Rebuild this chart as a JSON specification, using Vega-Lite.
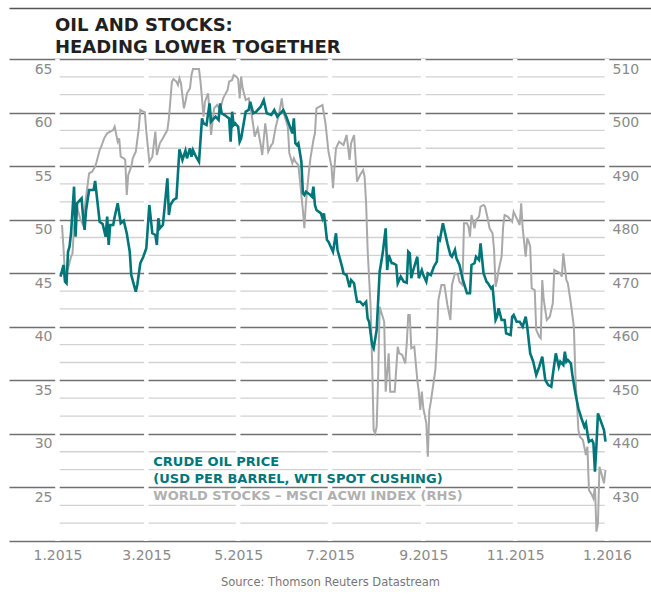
{
  "$schema": "https://vega.github.io/schema/vega-lite/v6.json",
  "width": 642,
  "height": 482,
  "autosize": {"type": "none"},
  "padding": {"left": 9, "top": 59, "right": 0, "bottom": 53},
  "background": "white",
  "title": {
    "text": ["OIL AND STOCKS:", "HEADING LOWER TOGETHER"],
    "anchor": "start",
    "frame": "group",
    "dx": 46,
    "offset": -48.5,
    "font": "DejaVu Sans",
    "fontSize": 18,
    "fontWeight": "bold",
    "color": "#231f20",
    "lineHeight": 22
  },
  "config": {
    "view": {"stroke": null},
    "axis": {"labelFont": "DejaVu Sans", "labelFontSize": 14, "labelColor": "#8a8a8a"}
  },
  "datasets": {
    "grid": [
      {"level": 423.3333}, {"level": 426.6667}, {"level": 433.3333}, {"level": 436.6667},
      {"level": 443.3333}, {"level": 446.6667}, {"level": 453.3333}, {"level": 456.6667},
      {"level": 463.3333}, {"level": 466.6667}, {"level": 473.3333}, {"level": 476.6667},
      {"level": 483.3333}, {"level": 486.6667}, {"level": 493.3333}, {"level": 496.6667},
      {"level": 503.3333}, {"level": 506.6667}
    ],
    "gaps": [
      {"date": "2015-01-01"}, {"date": "2015-03-01"}, {"date": "2015-05-01"}, {"date": "2015-07-01"},
      {"date": "2015-09-01"}, {"date": "2015-11-01"}, {"date": "2016-01-01"}
    ],
    "notes": [
      {"date": "2015-03-05T15:25:00Z", "y": 27.03, "label": "CRUDE OIL PRICE", "series": "oil"},
      {"date": "2015-03-05T15:25:00Z", "y": 25.39, "label": "(USD PER BARREL, WTI SPOT CUSHING)", "series": "oil"},
      {"date": "2015-03-05T15:25:00Z", "y": 23.83, "label": "WORLD STOCKS – MSCI ACWI INDEX (RHS)", "series": "stocks"}
    ],
    "oil": [
      {"date": "2015-01-03", "value": 44.68}, {"date": "2015-01-05", "value": 45.77}, {"date": "2015-01-06", "value": 44.21},
      {"date": "2015-01-07", "value": 44.06}, {"date": "2015-01-08", "value": 47.01}, {"date": "2015-01-09", "value": 47.48},
      {"date": "2015-01-10", "value": 48.73}, {"date": "2015-01-12", "value": 53.08}, {"date": "2015-01-13", "value": 48.41},
      {"date": "2015-01-14", "value": 51.53}, {"date": "2015-01-17", "value": 52.0}, {"date": "2015-01-18", "value": 50.28},
      {"date": "2015-01-19", "value": 49.04}, {"date": "2015-01-20", "value": 50.9}, {"date": "2015-01-22", "value": 52.77},
      {"date": "2015-01-25", "value": 52.77}, {"date": "2015-01-26", "value": 53.61}, {"date": "2015-01-29", "value": 49.81},
      {"date": "2015-01-31", "value": 49.6}, {"date": "2015-02-02", "value": 48.41}, {"date": "2015-02-03", "value": 50.28},
      {"date": "2015-02-04", "value": 47.64}, {"date": "2015-02-05", "value": 49.5}, {"date": "2015-02-07", "value": 49.5},
      {"date": "2015-02-08", "value": 50.28}, {"date": "2015-02-10", "value": 51.53}, {"date": "2015-02-12", "value": 49.66},
      {"date": "2015-02-14", "value": 49.9}, {"date": "2015-02-16", "value": 48.73}, {"date": "2015-02-18", "value": 47.01},
      {"date": "2015-02-19", "value": 44.83}, {"date": "2015-02-22", "value": 43.28}, {"date": "2015-02-23", "value": 43.9},
      {"date": "2015-02-25", "value": 45.93}, {"date": "2015-02-27", "value": 46.54}, {"date": "2015-03-01", "value": 47.33},
      {"date": "2015-03-03", "value": 51.37}, {"date": "2015-03-05", "value": 48.73}, {"date": "2015-03-07", "value": 48.57},
      {"date": "2015-03-08", "value": 47.64}, {"date": "2015-03-09", "value": 50.13}, {"date": "2015-03-10", "value": 49.19},
      {"date": "2015-03-12", "value": 49.5}, {"date": "2015-03-15", "value": 53.86}, {"date": "2015-03-16", "value": 50.44},
      {"date": "2015-03-17", "value": 51.37}, {"date": "2015-03-19", "value": 51.84}, {"date": "2015-03-21", "value": 52.0},
      {"date": "2015-03-23", "value": 56.57}, {"date": "2015-03-25", "value": 55.57}, {"date": "2015-03-27", "value": 56.44},
      {"date": "2015-03-28", "value": 55.73}, {"date": "2015-03-30", "value": 56.66}, {"date": "2015-03-31", "value": 55.88},
      {"date": "2015-04-01", "value": 56.5}, {"date": "2015-04-03", "value": 55.88}, {"date": "2015-04-05", "value": 55.41},
      {"date": "2015-04-07", "value": 59.46}, {"date": "2015-04-08", "value": 58.99}, {"date": "2015-04-10", "value": 58.84},
      {"date": "2015-04-12", "value": 60.86}, {"date": "2015-04-13", "value": 59.15}, {"date": "2015-04-16", "value": 59.61},
      {"date": "2015-04-18", "value": 59.31}, {"date": "2015-04-19", "value": 60.86}, {"date": "2015-04-20", "value": 59.93},
      {"date": "2015-04-22", "value": 59.77}, {"date": "2015-04-25", "value": 59.46}, {"date": "2015-04-26", "value": 57.28},
      {"date": "2015-04-27", "value": 60.08}, {"date": "2015-04-28", "value": 58.84}, {"date": "2015-04-29", "value": 59.0},
      {"date": "2015-05-01", "value": 58.68}, {"date": "2015-05-02", "value": 57.28}, {"date": "2015-05-03", "value": 57.6},
      {"date": "2015-05-06", "value": 60.08}, {"date": "2015-05-08", "value": 60.24}, {"date": "2015-05-09", "value": 61.01},
      {"date": "2015-05-11", "value": 59.93}, {"date": "2015-05-13", "value": 60.08}, {"date": "2015-05-16", "value": 60.55},
      {"date": "2015-05-18", "value": 61.17}, {"date": "2015-05-20", "value": 59.93}, {"date": "2015-05-23", "value": 59.77},
      {"date": "2015-05-25", "value": 60.24}, {"date": "2015-05-27", "value": 59.61}, {"date": "2015-05-29", "value": 59.93},
      {"date": "2015-05-31", "value": 60.24}, {"date": "2015-06-02", "value": 59.61}, {"date": "2015-06-04", "value": 58.84},
      {"date": "2015-06-06", "value": 58.06}, {"date": "2015-06-07", "value": 59.46}, {"date": "2015-06-08", "value": 57.13},
      {"date": "2015-06-09", "value": 56.97}, {"date": "2015-06-10", "value": 57.13}, {"date": "2015-06-12", "value": 55.41},
      {"date": "2015-06-13", "value": 52.46}, {"date": "2015-06-14", "value": 52.3}, {"date": "2015-06-15", "value": 52.61},
      {"date": "2015-06-18", "value": 52.3}, {"date": "2015-06-19", "value": 52.15}, {"date": "2015-06-20", "value": 53.08},
      {"date": "2015-06-21", "value": 51.37}, {"date": "2015-06-22", "value": 50.9}, {"date": "2015-06-25", "value": 50.59},
      {"date": "2015-06-26", "value": 50.13}, {"date": "2015-06-27", "value": 50.59}, {"date": "2015-06-29", "value": 48.1},
      {"date": "2015-06-30", "value": 47.94}, {"date": "2015-07-03", "value": 47.01}, {"date": "2015-07-05", "value": 48.73},
      {"date": "2015-07-06", "value": 47.17}, {"date": "2015-07-09", "value": 45.61}, {"date": "2015-07-10", "value": 44.99},
      {"date": "2015-07-12", "value": 44.83}, {"date": "2015-07-14", "value": 43.69}, {"date": "2015-07-15", "value": 44.37},
      {"date": "2015-07-17", "value": 44.06}, {"date": "2015-07-18", "value": 43.13}, {"date": "2015-07-19", "value": 42.34},
      {"date": "2015-07-21", "value": 42.34}, {"date": "2015-07-23", "value": 42.03}, {"date": "2015-07-25", "value": 42.34},
      {"date": "2015-07-26", "value": 40.79}, {"date": "2015-07-27", "value": 40.47}, {"date": "2015-07-29", "value": 38.3},
      {"date": "2015-07-30", "value": 37.99}, {"date": "2015-08-01", "value": 39.7}, {"date": "2015-08-03", "value": 45.14},
      {"date": "2015-08-05", "value": 46.86}, {"date": "2015-08-07", "value": 49.19}, {"date": "2015-08-08", "value": 45.3},
      {"date": "2015-08-09", "value": 46.7}, {"date": "2015-08-11", "value": 45.93}, {"date": "2015-08-12", "value": 45.93},
      {"date": "2015-08-14", "value": 45.77}, {"date": "2015-08-15", "value": 44.06}, {"date": "2015-08-17", "value": 44.68},
      {"date": "2015-08-19", "value": 44.21}, {"date": "2015-08-21", "value": 44.11}, {"date": "2015-08-22", "value": 47.01},
      {"date": "2015-08-23", "value": 46.86}, {"date": "2015-08-24", "value": 44.53}, {"date": "2015-08-25", "value": 45.14},
      {"date": "2015-08-28", "value": 46.54}, {"date": "2015-08-29", "value": 44.53}, {"date": "2015-08-31", "value": 45.3},
      {"date": "2015-09-01", "value": 44.83}, {"date": "2015-09-03", "value": 44.21}, {"date": "2015-09-04", "value": 44.99},
      {"date": "2015-09-06", "value": 44.83}, {"date": "2015-09-08", "value": 45.61}, {"date": "2015-09-10", "value": 46.08},
      {"date": "2015-09-11", "value": 48.26}, {"date": "2015-09-12", "value": 48.1}, {"date": "2015-09-14", "value": 49.66},
      {"date": "2015-09-15", "value": 49.04}, {"date": "2015-09-17", "value": 47.79}, {"date": "2015-09-19", "value": 46.7},
      {"date": "2015-09-20", "value": 46.54}, {"date": "2015-09-22", "value": 47.17}, {"date": "2015-09-23", "value": 46.39},
      {"date": "2015-09-25", "value": 45.77}, {"date": "2015-09-27", "value": 44.53}, {"date": "2015-09-28", "value": 44.06},
      {"date": "2015-09-30", "value": 43.13}, {"date": "2015-10-02", "value": 43.13}, {"date": "2015-10-03", "value": 45.77},
      {"date": "2015-10-05", "value": 45.93}, {"date": "2015-10-06", "value": 46.54}, {"date": "2015-10-08", "value": 46.23},
      {"date": "2015-10-09", "value": 47.79}, {"date": "2015-10-11", "value": 44.99}, {"date": "2015-10-13", "value": 44.21},
      {"date": "2015-10-14", "value": 44.06}, {"date": "2015-10-16", "value": 43.59}, {"date": "2015-10-17", "value": 43.74},
      {"date": "2015-10-19", "value": 40.63}, {"date": "2015-10-20", "value": 40.94}, {"date": "2015-10-21", "value": 41.73},
      {"date": "2015-10-23", "value": 40.63}, {"date": "2015-10-25", "value": 40.63}, {"date": "2015-10-26", "value": 39.39},
      {"date": "2015-10-29", "value": 39.23}, {"date": "2015-10-30", "value": 40.94}, {"date": "2015-10-31", "value": 41.1},
      {"date": "2015-11-02", "value": 40.47}, {"date": "2015-11-04", "value": 40.47}, {"date": "2015-11-06", "value": 40.01},
      {"date": "2015-11-08", "value": 40.94}, {"date": "2015-11-09", "value": 40.01}, {"date": "2015-11-11", "value": 37.52},
      {"date": "2015-11-13", "value": 36.74}, {"date": "2015-11-15", "value": 35.5}, {"date": "2015-11-17", "value": 36.27},
      {"date": "2015-11-19", "value": 37.21}, {"date": "2015-11-21", "value": 35.03}, {"date": "2015-11-23", "value": 34.56},
      {"date": "2015-11-25", "value": 34.41}, {"date": "2015-11-26", "value": 35.5}, {"date": "2015-11-28", "value": 37.52},
      {"date": "2015-11-30", "value": 36.27}, {"date": "2015-12-01", "value": 36.74}, {"date": "2015-12-03", "value": 36.43},
      {"date": "2015-12-04", "value": 37.67}, {"date": "2015-12-05", "value": 36.74}, {"date": "2015-12-06", "value": 36.9},
      {"date": "2015-12-08", "value": 36.59}, {"date": "2015-12-09", "value": 35.5}, {"date": "2015-12-11", "value": 33.79},
      {"date": "2015-12-13", "value": 32.39}, {"date": "2015-12-15", "value": 31.46}, {"date": "2015-12-17", "value": 30.67},
      {"date": "2015-12-18", "value": 30.99}, {"date": "2015-12-19", "value": 30.06}, {"date": "2015-12-20", "value": 29.27},
      {"date": "2015-12-22", "value": 29.43}, {"date": "2015-12-23", "value": 29.12}, {"date": "2015-12-24", "value": 26.47},
      {"date": "2015-12-25", "value": 28.96}, {"date": "2015-12-26", "value": 31.92}, {"date": "2015-12-28", "value": 31.14},
      {"date": "2015-12-30", "value": 30.36}, {"date": "2015-12-31", "value": 29.27}
    ],
    "stocks": [
      {"date": "2015-01-04", "value": 479.0}, {"date": "2015-01-05", "value": 474.65}, {"date": "2015-01-06", "value": 469.67},
      {"date": "2015-01-08", "value": 470.92}, {"date": "2015-01-10", "value": 473.08}, {"date": "2015-01-11", "value": 473.72},
      {"date": "2015-01-12", "value": 478.69}, {"date": "2015-01-14", "value": 482.42}, {"date": "2015-01-16", "value": 480.25},
      {"date": "2015-01-18", "value": 479.0}, {"date": "2015-01-19", "value": 481.8}, {"date": "2015-01-20", "value": 484.29},
      {"date": "2015-01-22", "value": 488.66}, {"date": "2015-01-24", "value": 488.96}, {"date": "2015-01-26", "value": 489.89},
      {"date": "2015-01-27", "value": 490.82}, {"date": "2015-01-29", "value": 493.01}, {"date": "2015-01-30", "value": 493.62},
      {"date": "2015-02-01", "value": 495.19}, {"date": "2015-02-03", "value": 496.13}, {"date": "2015-02-05", "value": 496.43},
      {"date": "2015-02-07", "value": 496.74}, {"date": "2015-02-08", "value": 497.36}, {"date": "2015-02-10", "value": 494.56},
      {"date": "2015-02-11", "value": 495.19}, {"date": "2015-02-12", "value": 491.76}, {"date": "2015-02-14", "value": 491.46},
      {"date": "2015-02-15", "value": 491.14}, {"date": "2015-02-16", "value": 484.6}, {"date": "2015-02-17", "value": 488.34},
      {"date": "2015-02-19", "value": 489.89}, {"date": "2015-02-20", "value": 491.46}, {"date": "2015-02-22", "value": 492.69},
      {"date": "2015-02-23", "value": 494.87}, {"date": "2015-02-24", "value": 497.06}, {"date": "2015-02-25", "value": 500.48},
      {"date": "2015-02-27", "value": 500.16}, {"date": "2015-02-28", "value": 500.05}, {"date": "2015-03-01", "value": 496.43},
      {"date": "2015-03-03", "value": 490.82}, {"date": "2015-03-05", "value": 491.76}, {"date": "2015-03-07", "value": 496.43},
      {"date": "2015-03-08", "value": 492.07}, {"date": "2015-03-10", "value": 494.26}, {"date": "2015-03-12", "value": 495.19},
      {"date": "2015-03-15", "value": 496.74}, {"date": "2015-03-16", "value": 498.93}, {"date": "2015-03-18", "value": 505.76},
      {"date": "2015-03-19", "value": 506.26}, {"date": "2015-03-21", "value": 505.76}, {"date": "2015-03-22", "value": 505.14},
      {"date": "2015-03-23", "value": 506.39}, {"date": "2015-03-24", "value": 505.46}, {"date": "2015-03-26", "value": 500.79},
      {"date": "2015-03-27", "value": 502.03}, {"date": "2015-03-28", "value": 503.6}, {"date": "2015-03-30", "value": 504.53},
      {"date": "2015-03-31", "value": 507.01}, {"date": "2015-04-01", "value": 508.13}, {"date": "2015-04-05", "value": 508.13},
      {"date": "2015-04-06", "value": 505.76}, {"date": "2015-04-07", "value": 502.66}, {"date": "2015-04-08", "value": 499.23},
      {"date": "2015-04-09", "value": 502.03}, {"date": "2015-04-11", "value": 503.6}, {"date": "2015-04-12", "value": 500.16},
      {"date": "2015-04-13", "value": 495.81}, {"date": "2015-04-15", "value": 500.79}, {"date": "2015-04-17", "value": 501.41},
      {"date": "2015-04-19", "value": 500.48}, {"date": "2015-04-21", "value": 502.66}, {"date": "2015-04-24", "value": 504.21},
      {"date": "2015-04-25", "value": 505.76}, {"date": "2015-04-27", "value": 506.08}, {"date": "2015-04-28", "value": 507.01},
      {"date": "2015-04-30", "value": 506.7}, {"date": "2015-05-01", "value": 506.26}, {"date": "2015-05-02", "value": 502.66},
      {"date": "2015-05-03", "value": 506.7}, {"date": "2015-05-04", "value": 504.53}, {"date": "2015-05-06", "value": 502.34},
      {"date": "2015-05-08", "value": 502.66}, {"date": "2015-05-09", "value": 501.41}, {"date": "2015-05-11", "value": 497.68},
      {"date": "2015-05-12", "value": 495.49}, {"date": "2015-05-14", "value": 497.06}, {"date": "2015-05-16", "value": 493.94},
      {"date": "2015-05-17", "value": 492.07}, {"date": "2015-05-19", "value": 497.99}, {"date": "2015-05-20", "value": 495.81},
      {"date": "2015-05-21", "value": 492.69}, {"date": "2015-05-23", "value": 493.94}, {"date": "2015-05-24", "value": 494.26},
      {"date": "2015-05-26", "value": 497.36}, {"date": "2015-05-28", "value": 499.54}, {"date": "2015-05-30", "value": 502.66},
      {"date": "2015-05-31", "value": 500.16}, {"date": "2015-06-02", "value": 498.29}, {"date": "2015-06-03", "value": 497.36},
      {"date": "2015-06-04", "value": 492.39}, {"date": "2015-06-06", "value": 490.52}, {"date": "2015-06-07", "value": 491.46},
      {"date": "2015-06-08", "value": 490.82}, {"date": "2015-06-10", "value": 490.21}, {"date": "2015-06-11", "value": 487.41},
      {"date": "2015-06-12", "value": 484.6}, {"date": "2015-06-13", "value": 481.8}, {"date": "2015-06-14", "value": 478.39},
      {"date": "2015-06-15", "value": 483.06}, {"date": "2015-06-17", "value": 488.96}, {"date": "2015-06-18", "value": 491.46},
      {"date": "2015-06-20", "value": 494.87}, {"date": "2015-06-21", "value": 496.13}, {"date": "2015-06-22", "value": 500.79},
      {"date": "2015-06-24", "value": 501.09}, {"date": "2015-06-26", "value": 501.41}, {"date": "2015-06-28", "value": 497.99},
      {"date": "2015-06-30", "value": 492.69}, {"date": "2015-07-02", "value": 489.89}, {"date": "2015-07-03", "value": 485.86},
      {"date": "2015-07-04", "value": 489.89}, {"date": "2015-07-05", "value": 493.33}, {"date": "2015-07-07", "value": 494.56},
      {"date": "2015-07-10", "value": 493.94}, {"date": "2015-07-12", "value": 495.81}, {"date": "2015-07-13", "value": 493.62},
      {"date": "2015-07-14", "value": 491.14}, {"date": "2015-07-15", "value": 494.26}, {"date": "2015-07-17", "value": 495.81},
      {"date": "2015-07-19", "value": 487.09}, {"date": "2015-07-21", "value": 488.34}, {"date": "2015-07-23", "value": 489.27},
      {"date": "2015-07-24", "value": 488.02}, {"date": "2015-07-25", "value": 483.06}, {"date": "2015-07-26", "value": 474.34},
      {"date": "2015-07-28", "value": 463.75}, {"date": "2015-07-29", "value": 453.18}, {"date": "2015-07-30", "value": 440.73},
      {"date": "2015-07-31", "value": 440.11}, {"date": "2015-08-01", "value": 441.34}, {"date": "2015-08-02", "value": 450.68},
      {"date": "2015-08-03", "value": 463.75}, {"date": "2015-08-05", "value": 461.88}, {"date": "2015-08-06", "value": 460.95},
      {"date": "2015-08-07", "value": 447.88}, {"date": "2015-08-09", "value": 455.05}, {"date": "2015-08-10", "value": 447.88},
      {"date": "2015-08-11", "value": 447.88}, {"date": "2015-08-13", "value": 447.88}, {"date": "2015-08-15", "value": 456.28},
      {"date": "2015-08-16", "value": 455.05}, {"date": "2015-08-18", "value": 454.73}, {"date": "2015-08-20", "value": 453.18},
      {"date": "2015-08-21", "value": 456.91}, {"date": "2015-08-22", "value": 462.2}, {"date": "2015-08-23", "value": 462.2},
      {"date": "2015-08-24", "value": 455.98}, {"date": "2015-08-26", "value": 456.28}, {"date": "2015-08-28", "value": 450.06},
      {"date": "2015-08-29", "value": 447.88}, {"date": "2015-08-30", "value": 444.46}, {"date": "2015-08-31", "value": 447.88},
      {"date": "2015-09-01", "value": 444.78}, {"date": "2015-09-03", "value": 441.98}, {"date": "2015-09-04", "value": 435.74},
      {"date": "2015-09-05", "value": 444.46}, {"date": "2015-09-06", "value": 446.01}, {"date": "2015-09-09", "value": 451.93},
      {"date": "2015-09-10", "value": 457.53}, {"date": "2015-09-11", "value": 465.0}, {"date": "2015-09-13", "value": 467.8},
      {"date": "2015-09-15", "value": 467.8}, {"date": "2015-09-17", "value": 464.07}, {"date": "2015-09-19", "value": 461.27},
      {"date": "2015-09-20", "value": 467.8}, {"date": "2015-09-22", "value": 469.98}, {"date": "2015-09-24", "value": 469.67},
      {"date": "2015-09-25", "value": 468.42}, {"date": "2015-09-27", "value": 467.8}, {"date": "2015-09-28", "value": 479.32},
      {"date": "2015-09-30", "value": 479.32}, {"date": "2015-10-01", "value": 478.69}, {"date": "2015-10-02", "value": 476.82},
      {"date": "2015-10-03", "value": 480.87}, {"date": "2015-10-05", "value": 478.39}, {"date": "2015-10-06", "value": 479.94},
      {"date": "2015-10-08", "value": 480.56}, {"date": "2015-10-09", "value": 482.42}, {"date": "2015-10-11", "value": 482.74},
      {"date": "2015-10-12", "value": 482.42}, {"date": "2015-10-14", "value": 479.94}, {"date": "2015-10-15", "value": 478.39},
      {"date": "2015-10-17", "value": 477.45}, {"date": "2015-10-18", "value": 474.34}, {"date": "2015-10-19", "value": 467.48},
      {"date": "2015-10-20", "value": 468.73}, {"date": "2015-10-21", "value": 470.6}, {"date": "2015-10-23", "value": 473.08},
      {"date": "2015-10-24", "value": 478.69}, {"date": "2015-10-25", "value": 480.87}, {"date": "2015-10-27", "value": 480.56},
      {"date": "2015-10-30", "value": 479.62}, {"date": "2015-10-31", "value": 481.49}, {"date": "2015-11-02", "value": 480.25},
      {"date": "2015-11-04", "value": 479.0}, {"date": "2015-11-05", "value": 483.06}, {"date": "2015-11-06", "value": 478.39},
      {"date": "2015-11-08", "value": 473.08}, {"date": "2015-11-09", "value": 476.52}, {"date": "2015-11-10", "value": 475.89},
      {"date": "2015-11-11", "value": 474.95}, {"date": "2015-11-12", "value": 467.18}, {"date": "2015-11-14", "value": 466.87},
      {"date": "2015-11-15", "value": 459.4}, {"date": "2015-11-17", "value": 458.15}, {"date": "2015-11-18", "value": 457.85},
      {"date": "2015-11-19", "value": 468.73}, {"date": "2015-11-20", "value": 465.0}, {"date": "2015-11-22", "value": 461.27},
      {"date": "2015-11-24", "value": 461.88}, {"date": "2015-11-26", "value": 464.38}, {"date": "2015-11-27", "value": 470.6},
      {"date": "2015-11-29", "value": 470.28}, {"date": "2015-12-01", "value": 469.98}, {"date": "2015-12-02", "value": 469.35},
      {"date": "2015-12-03", "value": 473.72}, {"date": "2015-12-05", "value": 468.73}, {"date": "2015-12-06", "value": 468.12},
      {"date": "2015-12-08", "value": 464.38}, {"date": "2015-12-10", "value": 460.01}, {"date": "2015-12-11", "value": 451.0},
      {"date": "2015-12-13", "value": 440.73}, {"date": "2015-12-14", "value": 439.48}, {"date": "2015-12-16", "value": 438.86},
      {"date": "2015-12-18", "value": 436.06}, {"date": "2015-12-19", "value": 437.61}, {"date": "2015-12-20", "value": 429.52},
      {"date": "2015-12-22", "value": 428.59}, {"date": "2015-12-23", "value": 427.97}, {"date": "2015-12-24", "value": 430.14},
      {"date": "2015-12-25", "value": 421.74}, {"date": "2015-12-26", "value": 423.3}, {"date": "2015-12-27", "value": 433.87},
      {"date": "2015-12-28", "value": 432.94}, {"date": "2015-12-30", "value": 430.77}, {"date": "2015-12-31", "value": 433.26}
    ]
  },
  "layer": [
    {
      "layer": [
        {
          "data": {"name": "grid"},
          "mark": {"type": "rule", "stroke": "#d2d2d2", "strokeWidth": 1.3},
          "encoding": {
            "x": {"datum": {"year": 2015, "month": 1, "date": 1, "utc": true}, "type": "temporal",
              "scale": {"type": "utc", "domain": [{"year": 2014, "month": 11, "date": 29, "hours": 19, "utc": true}, {"year": 2016, "month": 1, "date": 30, "hours": 5, "minutes": 30, "utc": true}]},
              "axis": {"orient": "top", "offset": 51, "domain": true, "domainColor": "#555555", "domainWidth": 1.5, "ticks": false, "labels": false, "grid": false, "title": null}},
            "x2": {"datum": {"year": 2016, "month": 1, "date": 1, "utc": true}},
            "y": {"field": "level", "type": "quantitative", "scale": {"domain": [420, 510], "nice": false, "zero": false},
              "axis": {"orient": "right", "values": [430, 440, 450, 460, 470, 480, 490, 500, 510], "offset": -39, "labelPadding": 0, "ticks": false, "domain": false, "grid": false, "labelOffset": 10, "labelExpr": "format(datum.value, 'd')", "labelOverlap": false, "title": null}}
          }
        },
        {
          "data": {"name": "gaps"},
          "mark": {"type": "rule", "stroke": "white", "strokeWidth": 4.5},
          "encoding": {
            "x": {"field": "date", "type": "temporal",
              "scale": {"type": "utc", "domain": [{"year": 2014, "month": 11, "date": 29, "hours": 19, "utc": true}, {"year": 2016, "month": 1, "date": 30, "hours": 5, "minutes": 30, "utc": true}]},
              "axis": {"orient": "top", "offset": 51, "domain": true, "domainColor": "#555555", "domainWidth": 1.5, "ticks": false, "labels": false, "grid": false, "title": null}}
          }
        },
        {
          "data": {"name": "stocks"},
          "mark": {"type": "line", "stroke": "#a9a9a9", "strokeWidth": 2},
          "encoding": {
            "x": {"field": "date", "type": "temporal",
              "scale": {"type": "utc", "domain": [{"year": 2014, "month": 11, "date": 29, "hours": 19, "utc": true}, {"year": 2016, "month": 1, "date": 30, "hours": 5, "minutes": 30, "utc": true}]},
              "axis": {"orient": "top", "offset": 51, "domain": true, "domainColor": "#555555", "domainWidth": 1.5, "ticks": false, "labels": false, "grid": false, "title": null}},
            "y": {"field": "value", "type": "quantitative", "scale": {"domain": [420, 510], "nice": false, "zero": false},
              "axis": {"orient": "right", "values": [430, 440, 450, 460, 470, 480, 490, 500, 510], "offset": -39, "labelPadding": 0, "ticks": false, "domain": false, "grid": false, "labelOffset": 10, "labelExpr": "format(datum.value, 'd')", "labelOverlap": false, "title": null}}
          }
        }
      ]
    },
    {
      "layer": [
        {
          "data": {"name": "oil"},
          "mark": {"type": "line", "stroke": "#00767a", "strokeWidth": 2.6},
          "encoding": {
            "x": {"field": "date", "type": "temporal",
              "scale": {"type": "utc", "domain": [{"year": 2014, "month": 11, "date": 29, "hours": 19, "utc": true}, {"year": 2016, "month": 1, "date": 30, "hours": 5, "minutes": 30, "utc": true}]},
              "axis": {"orient": "bottom", "values": [{"year": 2015, "month": 1, "date": 1, "utc": true}, {"year": 2015, "month": 3, "date": 1, "utc": true}, {"year": 2015, "month": 5, "date": 1, "utc": true}, {"year": 2015, "month": 7, "date": 1, "utc": true}, {"year": 2015, "month": 9, "date": 1, "utc": true}, {"year": 2015, "month": 11, "date": 1, "utc": true}, {"year": 2016, "month": 1, "date": 1, "utc": true}],
                "labelExpr": "utcFormat(datum.value, '%-m.%Y')", "domain": false, "ticks": false, "grid": false, "labelPadding": 7, "labelFlush": false, "labelOverlap": false,
                "title": "Source: Thomson Reuters Datastream", "titleFont": "DejaVu Sans", "titleFontSize": 11.5, "titleFontWeight": "normal", "titleColor": "#777777", "titlePadding": 14}},
            "y": {"field": "value", "type": "quantitative", "scale": {"domain": [20, 65], "nice": false, "zero": false},
              "axis": {"orient": "left", "values": [20, 25, 30, 35, 40, 45, 50, 55, 60, 65], "offset": -43, "labelPadding": 0, "ticks": false, "domain": false, "grid": true, "gridColor": "#707070", "gridWidth": 1.3, "labelOffset": 10, "labelExpr": "datum.value == 20 ? '' : format(datum.value, 'd')", "labelOverlap": false, "title": null}}
          }
        },
        {
          "data": {"name": "notes"},
          "mark": {"type": "text", "align": "left", "baseline": "alphabetic", "font": "DejaVu Sans", "fontSize": 13, "fontWeight": "bold"},
          "encoding": {
            "x": {"field": "date", "type": "temporal",
              "scale": {"type": "utc", "domain": [{"year": 2014, "month": 11, "date": 29, "hours": 19, "utc": true}, {"year": 2016, "month": 1, "date": 30, "hours": 5, "minutes": 30, "utc": true}]},
              "axis": {"orient": "bottom", "values": [{"year": 2015, "month": 1, "date": 1, "utc": true}, {"year": 2015, "month": 3, "date": 1, "utc": true}, {"year": 2015, "month": 5, "date": 1, "utc": true}, {"year": 2015, "month": 7, "date": 1, "utc": true}, {"year": 2015, "month": 9, "date": 1, "utc": true}, {"year": 2015, "month": 11, "date": 1, "utc": true}, {"year": 2016, "month": 1, "date": 1, "utc": true}],
                "labelExpr": "utcFormat(datum.value, '%-m.%Y')", "domain": false, "ticks": false, "grid": false, "labelPadding": 7, "labelFlush": false, "labelOverlap": false,
                "title": "Source: Thomson Reuters Datastream", "titleFont": "DejaVu Sans", "titleFontSize": 11.5, "titleFontWeight": "normal", "titleColor": "#777777", "titlePadding": 14}},
            "y": {"field": "y", "type": "quantitative", "scale": {"domain": [20, 65], "nice": false, "zero": false},
              "axis": {"orient": "left", "values": [20, 25, 30, 35, 40, 45, 50, 55, 60, 65], "offset": -43, "labelPadding": 0, "ticks": false, "domain": false, "grid": true, "gridColor": "#707070", "gridWidth": 1.3, "labelOffset": 10, "labelExpr": "datum.value == 20 ? '' : format(datum.value, 'd')", "labelOverlap": false, "title": null}},
            "text": {"field": "label"},
            "color": {"field": "series", "type": "nominal", "scale": {"domain": ["oil", "stocks"], "range": ["#00767a", "#b0b0b0"]}, "legend": null}
          }
        }
      ]
    }
  ],
  "resolve": {"scale": {"y": "independent"}, "axis": {"x": "independent"}}
}
